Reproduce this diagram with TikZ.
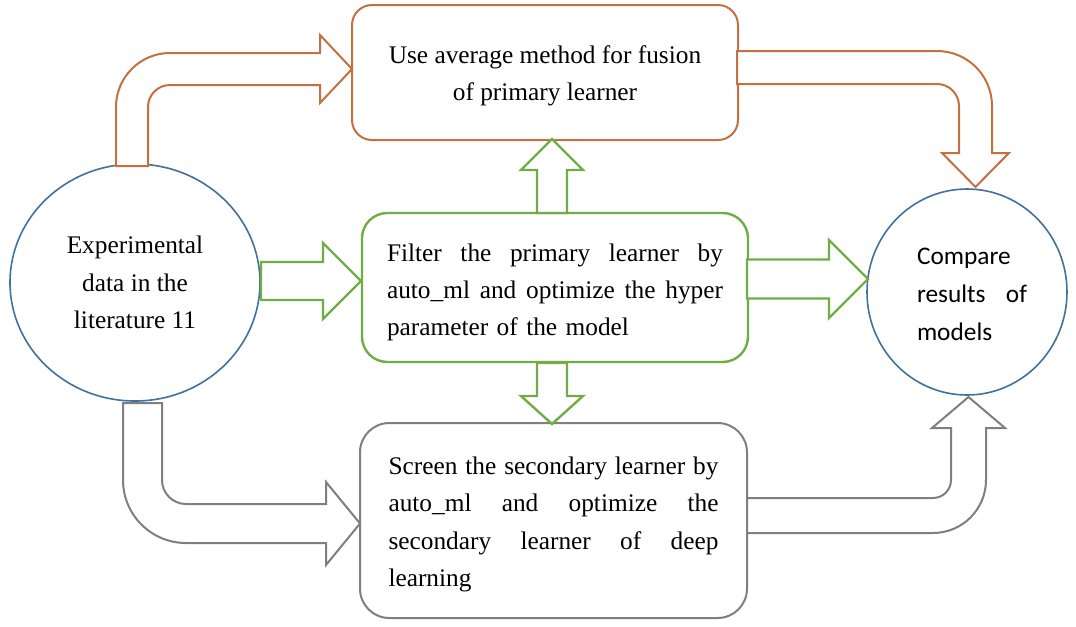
\documentclass[tikz,border=0pt]{standalone}
\usepackage{fontspec}
\setmainfont{Liberation Serif}
\newfontfamily\calibfont{Carlito}
\usetikzlibrary{shapes.geometric}
\definecolor{cblue}{RGB}{65,113,156}
\definecolor{corange}{RGB}{197,112,64}
\definecolor{cgreen}{RGB}{112,173,71}
\definecolor{cgray}{RGB}{127,127,127}
\newcommand{\jline}[2]{\leavevmode\hbox to #1{#2}}
\begin{document}
\begin{tikzpicture}[x=0.75pt,y=-0.75pt,
  txt/.style={font=\fontsize{19pt}{28pt}\selectfont, inner sep=0pt},
  boxnode/.style={draw, rounded corners=#1, fill=white, line width=1.5pt, inner sep=0pt},
  circnode/.style={ellipse, draw=cblue, line width=1.2pt, fill=white, inner sep=0pt, txt},
  barrow/.style={draw=#1, fill=white, line width=1.5pt, line join=miter, miter limit=10}]
\useasboundingbox (0,0) rectangle (1076,626);

% circles
\node[circnode, minimum width=187.5pt, minimum height=177.75pt, align=center] (L) at (135,282.5)
  {Experimental\\data in the\\literature 11};
\node[circnode, minimum width=150pt, minimum height=154.5pt] (R) at (967,292) {};
\node[txt, font=\calibfont\fontsize{19pt}{28.5pt}\selectfont, text width=82.5pt, align=left] (Rt) at (972,294.5)
  {Compare\\\jline{82.5pt}{results\hfill of}\\models};

% boxes
\node[boxnode=15pt, draw=corange, minimum width=289.5pt, minimum height=101.25pt] (T) at (545,72.5) {};
\node[txt, align=center] (Tt) at ([yshift=-2.25pt]T.center) {Use average method for fusion\\of primary learner};

\node[boxnode=19pt, draw=cgreen, line width=1.8pt, minimum width=289.5pt, minimum height=111.75pt] (M) at (555,287.5) {};
\node[txt, text width=252pt, align=left] (Mt) at ([yshift=-3.75pt]M.center)
  {\jline{252pt}{Filter\hfill the\hfill primary\hfill learner\hfill by}\\
   \jline{252pt}{auto\_ml\hfill and\hfill optimize\hfill the\hfill hyper}\\
   parameter of the model};

\node[boxnode=22pt, draw=cgray, minimum width=290.25pt, minimum height=146.25pt] (B) at (553.5,520.5) {};
\node[txt, text width=247.5pt, align=left] (Bt) at ([yshift=-3pt]B.center)
  {\jline{247.5pt}{Screen\hfill the\hfill secondary\hfill learner\hfill by}\\
   \jline{247.5pt}{auto\_ml\hfill and\hfill optimize\hfill the}\\
   \jline{247.5pt}{secondary\hfill learner\hfill of\hfill deep}\\
   learning};

% orange block arrows
\draw[barrow=corange] (116,166) -- (116,107) .. controls (116,77.2) and (140.2,53) .. (170,53)
  -- (320,53) -- (320,35) -- (352,69) -- (320,103) -- (320,85) -- (170,85)
  .. controls (157.85,85) and (148,94.85) .. (148,107) -- (148,166) -- cycle;
\draw[barrow=corange] (737,51) -- (937,51) .. controls (967.4,51) and (992,75.6) .. (992,106)
  -- (992,153) -- (1009,153) -- (975.5,187) -- (942,153) -- (959,153) -- (959,106)
  .. controls (959,93.85) and (949.15,84) .. (937,84) -- (737,84) -- cycle;

% green block arrows
\draw[barrow=cgreen, line width=1.8pt] (261,262) -- (323,262) -- (323,243) -- (361,281) -- (323,319) -- (323,300) -- (261,300) -- cycle;
\draw[barrow=cgreen, line width=1.8pt] (747,259.5) -- (829,259.5) -- (829,240) -- (868,279) -- (829,318) -- (829,298.5) -- (747,298.5) -- cycle;
\draw[barrow=cgreen, line width=1.8pt] (537,213) -- (537,170) -- (521,170) -- (552,139) -- (583,170) -- (567,170) -- (567,213) -- cycle;
\draw[barrow=cgreen, line width=1.8pt] (537,363) -- (537,396) -- (521,396) -- (552,424) -- (583,396) -- (567,396) -- (567,363) -- cycle;

% gray block arrows
\draw[barrow=cgray] (123,403) -- (162,403) -- (162,480) .. controls (162,493.25) and (172.75,504) .. (186,504)
  -- (326,504) -- (326,482) -- (360,523.5) -- (326,565) -- (326,543) -- (186,543)
  .. controls (151.2,543) and (123,514.8) .. (123,480) -- cycle;
\draw[barrow=cgray] (747,498) -- (933,498) .. controls (942.94,498) and (951,489.94) .. (951,480)
  -- (951,428) -- (932,428) -- (968.5,397) -- (1005,428) -- (986,428) -- (986,480)
  .. controls (986,509.27) and (962.27,533) .. (933,533) -- (747,533) -- cycle;
\end{tikzpicture}
\end{document}
